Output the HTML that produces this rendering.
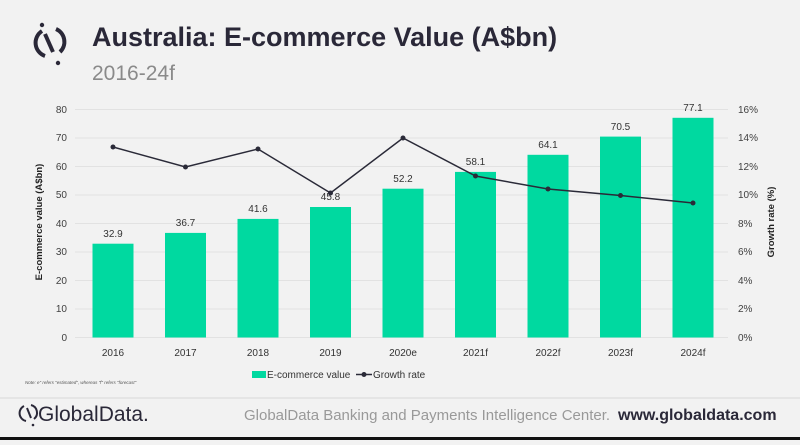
<!DOCTYPE html>
<html><head><meta charset="utf-8"><style>
html,body{margin:0;padding:0;}
body{width:800px;height:440px;background:#f2f2f2;overflow:hidden;font-family:"Liberation Sans",sans-serif;}
</style></head><body>
<svg width="800" height="440" xmlns="http://www.w3.org/2000/svg" font-family="Liberation Sans, sans-serif">
<rect width="800" height="440" fill="#f2f2f2"/>
<!-- logo -->
<path d="M42 31 A14 14 0 0 0 45 56" stroke="#2a2838" stroke-width="4" fill="none"/>
<path d="M56 29 A14 14 0 0 1 60 52" stroke="#2a2838" stroke-width="4" fill="none"/>
<line x1="45" y1="34" x2="53" y2="52" stroke="#2a2838" stroke-width="4"/>
<circle cx="42" cy="25" r="2.2" fill="#2a2838"/><circle cx="58" cy="63" r="2.2" fill="#2a2838"/>
<text x="92" y="46" font-size="27" font-weight="bold" fill="#2a2838">Australia: E-commerce Value (A$bn)</text>
<text x="92" y="80" font-size="21" fill="#8a8a8a">2016-24f</text>
<!-- gridlines -->
<g stroke="#e2e2e2" stroke-width="1">
<line x1="75" x2="728" y1="109.5" y2="109.5"/><line x1="75" x2="728" y1="138" y2="138"/>
<line x1="75" x2="728" y1="166.5" y2="166.5"/><line x1="75" x2="728" y1="195" y2="195"/>
<line x1="75" x2="728" y1="223.5" y2="223.5"/><line x1="75" x2="728" y1="252" y2="252"/>
<line x1="75" x2="728" y1="280.5" y2="280.5"/><line x1="75" x2="728" y1="309" y2="309"/>
<line x1="75" x2="728" y1="337.5" y2="337.5"/>
</g>
<g font-size="10" fill="#404040" text-anchor="end">
<text x="67" y="113">80</text><text x="67" y="141">70</text><text x="67" y="170">60</text>
<text x="67" y="198">50</text><text x="67" y="227">40</text><text x="67" y="255">30</text>
<text x="67" y="284">20</text><text x="67" y="312">10</text><text x="67" y="341">0</text>
</g>
<g font-size="10" fill="#404040" text-anchor="start">
<text x="738" y="113">16%</text><text x="738" y="141">14%</text><text x="738" y="170">12%</text>
<text x="738" y="198">10%</text><text x="738" y="227">8%</text><text x="738" y="255">6%</text>
<text x="738" y="284">4%</text><text x="738" y="312">2%</text><text x="738" y="341">0%</text>
</g>
<text transform="translate(42 222) rotate(-90)" font-size="9.5" font-weight="bold" fill="#222" text-anchor="middle">E-commerce value (A$bn)</text>
<text transform="translate(774 222) rotate(-90)" font-size="9.5" font-weight="bold" fill="#222" text-anchor="middle">Growth rate (%)</text>
<!-- bars -->
<g fill="#00d9a0">
<rect x="92.5" y="243.7" width="41" height="93.8"/>
<rect x="165" y="232.9" width="41" height="104.6"/>
<rect x="237.5" y="218.9" width="41" height="118.6"/>
<rect x="310" y="207" width="41" height="130.5"/>
<rect x="382.5" y="188.7" width="41" height="148.8"/>
<rect x="455" y="171.9" width="41" height="165.6"/>
<rect x="527.5" y="154.8" width="41" height="182.7"/>
<rect x="600" y="136.6" width="41" height="200.9"/>
<rect x="672.5" y="117.8" width="41" height="219.7"/>
</g>
<g font-size="10" fill="#333" text-anchor="middle">
<text x="113" y="237">32.9</text><text x="185.5" y="226">36.7</text><text x="258" y="212">41.6</text>
<text x="330.5" y="200">45.8</text><text x="403" y="182">52.2</text><text x="475.5" y="165">58.1</text>
<text x="548" y="148">64.1</text><text x="620.5" y="130">70.5</text><text x="693" y="111">77.1</text>
</g>
<polyline fill="none" stroke="#2a2a38" stroke-width="1.5" points="113,147 185.5,167 258,149 330.5,193 403,138 475.5,176 548,189 620.5,195.5 693,203"/>
<g fill="#2a2a38">
<circle cx="113" cy="147" r="2.5"/><circle cx="185.5" cy="167" r="2.5"/><circle cx="258" cy="149" r="2.5"/>
<circle cx="330.5" cy="193" r="2.5"/><circle cx="403" cy="138" r="2.5"/><circle cx="475.5" cy="176" r="2.5"/>
<circle cx="548" cy="189" r="2.5"/><circle cx="620.5" cy="195.5" r="2.5"/><circle cx="693" cy="203" r="2.5"/>
</g>
<g font-size="10" fill="#333" text-anchor="middle">
<text x="113" y="356">2016</text><text x="185.5" y="356">2017</text><text x="258" y="356">2018</text>
<text x="330.5" y="356">2019</text><text x="403" y="356">2020e</text><text x="475.5" y="356">2021f</text>
<text x="548" y="356">2022f</text><text x="620.5" y="356">2023f</text><text x="693" y="356">2024f</text>
</g>
<rect x="252" y="371" width="14" height="7" fill="#00d9a0"/>
<text x="267" y="378" font-size="10" fill="#333">E-commerce value</text>
<line x1="356" x2="372" y1="374.5" y2="374.5" stroke="#2a2a38" stroke-width="1.5"/><circle cx="364" cy="374.5" r="2.5" fill="#2a2a38"/>
<text x="373" y="378" font-size="10" fill="#333">Growth rate</text>
<text x="25" y="384" font-size="4.5" fill="#555" font-style="italic">Note: e" refers "estimated", whereas "f" refers "forecast"</text>
<line x1="0" x2="800" y1="398" y2="398" stroke="#d8d8d8" stroke-width="1"/>
<path d="M24 406 A8 8 0 0 0 26 421" stroke="#2a2838" stroke-width="2" fill="none"/>
<path d="M31 405 A8 8 0 0 1 34 419" stroke="#2a2838" stroke-width="2" fill="none"/>
<line x1="27" y1="408" x2="31" y2="418" stroke="#2a2838" stroke-width="2"/>
<circle cx="33" cy="425" r="1.3" fill="#2a2838"/>
<text x="38" y="421" font-size="21" fill="#2a2838">GlobalData.</text>
<text x="244" y="420" font-size="15" fill="#999">GlobalData Banking and Payments Intelligence Center.</text>
<text x="618" y="420" font-size="16" font-weight="bold" fill="#2a2838">www.globaldata.com</text>
<rect x="0" y="437" width="800" height="3" fill="#111"/>
</svg>
</body></html>
